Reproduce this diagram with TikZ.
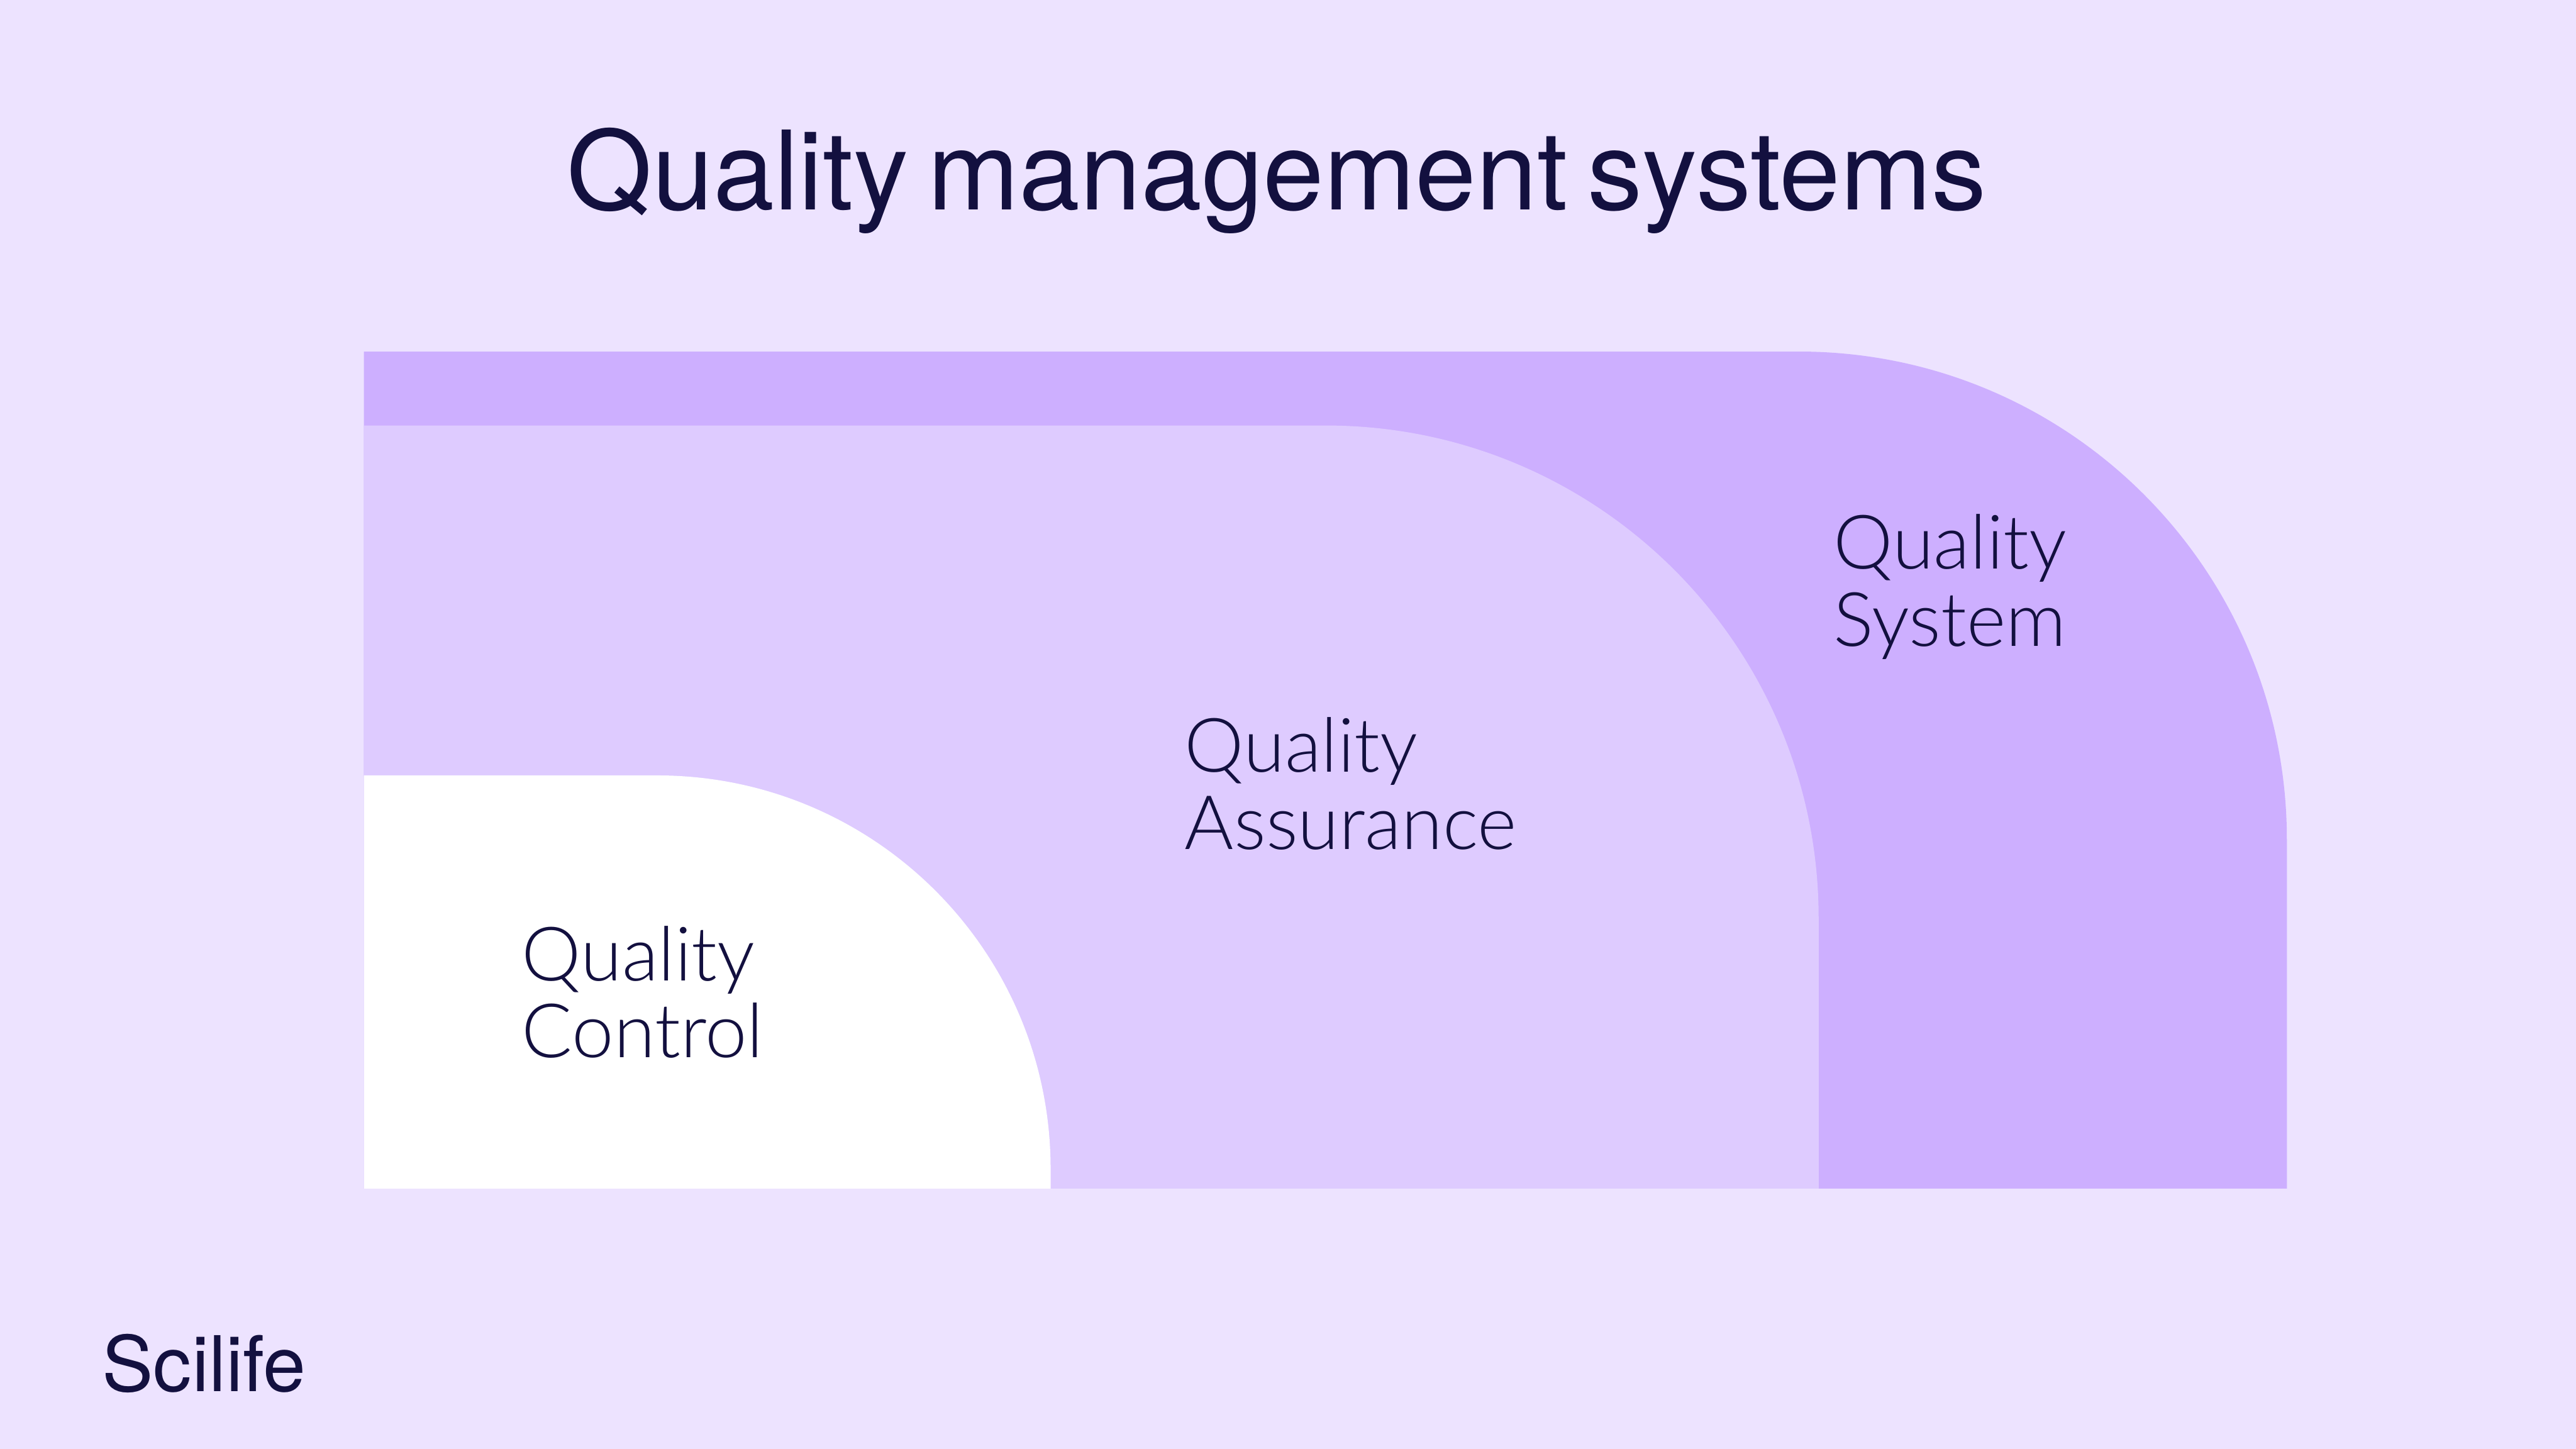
\documentclass[tikz,border=0pt]{standalone}
\usepackage{fontspec}
\setmainfont{Lato Light}
\newfontfamily\headfont[WordSpace=0.65]{TeX Gyre Heros}
\usetikzlibrary{positioning}
\definecolor{SciBack}{HTML}{EDE3FF}
\definecolor{SciDeep}{HTML}{CDAFFF}
\definecolor{SciMid}{HTML}{DECBFF}
\definecolor{SciInk}{HTML}{13103F}
\tikzset{
    labeltext/.style={text=SciInk, font=\fontsize{13}{13.3}\selectfont, align=left, anchor=base west, inner sep=0pt},
    titletext/.style={text=SciInk, font=\headfont\fontsize{18.98}{20}\selectfont, anchor=base west, inner sep=0pt},
    logotext/.style={text=SciInk, font=\headfont\fontsize{13.3}{14}\selectfont, anchor=base west, inner sep=0pt}
}
\begin{document}
\begin{tikzpicture}[x=0.01cm, y=-0.01cm]
    % background and the three nested areas
    \fill[SciBack] (0,0) rectangle (1568,882);
    \fill[SciDeep] (221.5,214) -- (1095,214) arc[start angle=-90, end angle=0, radius=297] -- (1392,723.5) -- (221.5,723.5) -- cycle;
    \fill[SciMid] (221.5,259) -- (807,259) arc[start angle=-90, end angle=0, radius=300] -- (1107,723.5) -- (221.5,723.5) -- cycle;
    \fill[white] (221.5,472) -- (400,472) arc[start angle=-90, end angle=0, radius=239.5] -- (639.5,723.5) -- (221.5,723.5) -- cycle;
    % texts
    \node[titletext] (title) at (344.5,127.5) {Quality management systems};
    \node[labeltext] (system) at (1115.5,393.2) {Quality\\System};
    \node[labeltext] (assurance) at (720.5,516.8) {Quality\\Assurance};
    \node[labeltext] (control) at (317,643.8) {Quality\\Control};
    \node[logotext] (logo) at (61.5,846.8) {Scilife};
\end{tikzpicture}
\end{document}
